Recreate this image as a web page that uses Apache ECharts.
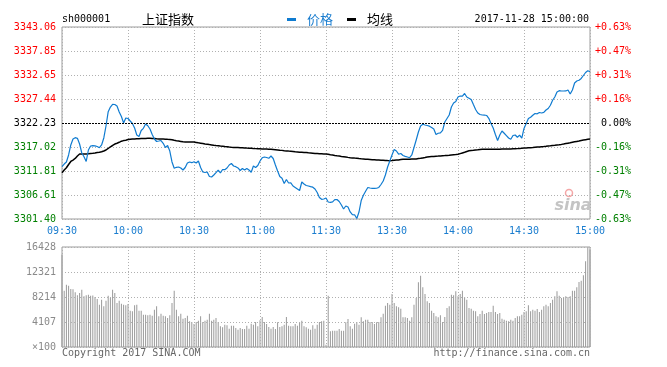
<!DOCTYPE html>
<html><head><meta charset="utf-8">
<script src="https://cdn.jsdelivr.net/npm/echarts@6/dist/echarts.min.js"></script>
<style>html,body{margin:0;padding:0;background:#fff;}#c{width:667px;height:367px;}</style>
</head><body><div id="c"></div>
<script>
// ---- data ----
const stockCode = 'sh000001';
const stockName = '上证指数';
const stamp = '2017-11-28 15:00:00';
const prevClose = 3322.23;
const priceMin = 3301.40;
const priceMax = 3343.06;
const volMax = 16428;
const priceTicks = ['3301.40','3306.61','3311.81','3317.02','3322.23','3327.44','3332.65','3337.85','3343.06'];
const pctTicks = ['-0.63%','-0.47%','-0.31%','-0.16%','0.00%','+0.16%','+0.31%','+0.47%','+0.63%'];
const volTicks = ['×100','4107','8214','12321','16428'];
const timeLabels = ['09:30','10:00','10:30','11:00','11:30','13:30','14:00','14:30','15:00'];

const price = [
3312.75,3313.33,3313.77,3315.29,3317.46,3318.76,3319.04,3318.91,3317.67,3315.72,
3314.92,3313.88,3316.37,3317.24,3317.31,3317.28,3317.13,3316.87,3317.46,3318.98,
3321.58,3324.68,3325.70,3326.29,3326.24,3325.92,3324.62,3323.64,3322.23,3323.32,
3323.21,3322.66,3322.12,3321.15,3319.63,3319.30,3320.60,3321.08,3322.01,3321.64,
3320.93,3319.74,3318.76,3318.22,3318.32,3318.43,3317.83,3316.91,3317.35,3316.15,
3313.77,3312.40,3312.62,3312.68,3312.47,3312.03,3312.57,3313.55,3313.77,3313.62,
3313.83,3313.55,3313.98,3312.57,3311.60,3311.49,3311.60,3310.62,3310.51,3310.95,
3311.45,3311.99,3311.42,3312.14,3312.10,3312.47,3313.12,3313.44,3312.90,3312.75,
3312.47,3311.92,3312.36,3312.03,3312.36,3312.03,3311.55,3312.90,3312.57,3313.01,
3313.98,3314.68,3314.85,3314.74,3314.57,3315.07,3314.53,3313.12,3311.81,3310.62,
3310.23,3309.10,3309.97,3309.21,3309.25,3308.56,3308.24,3307.91,3307.58,3309.43,
3308.99,3308.67,3308.56,3308.41,3308.30,3307.91,3307.15,3306.07,3305.67,3305.74,
3305.96,
3305.09,3305.02,3305.12,3305.61,3305.63,3305.20,3304.44,3303.57,3304.22,
3304.00,3302.92,3302.33,3302.31,3301.50,3302.92,3305.41,3306.56,3307.43,3308.24,
3308.13,3308.06,3308.04,3308.07,3308.24,3308.89,3309.65,3310.95,3312.68,3313.98,
3315.29,3316.48,3316.15,3315.46,3315.61,3315.18,3315.00,3314.85,3314.70,3315.29,
3316.91,3318.54,3320.28,3321.58,3321.95,3321.80,3321.69,3321.54,3321.25,3320.93,
3319.74,3320.00,3320.10,3320.65,3322.45,3323.21,3323.97,3325.70,3326.57,3326.90,
3327.87,3328.09,3328.08,3328.63,3327.87,3327.61,3327.33,3326.24,3325.16,3324.40,
3324.07,3323.97,3323.96,3323.86,3323.25,3322.12,3321.15,3319.74,3318.43,3319.63,
3320.49,3320.00,3319.50,3318.98,3318.69,3319.52,3319.63,3319.13,3319.60,3318.93,
3321.04,3322.12,3323.21,3323.47,3323.92,3324.29,3324.23,3324.51,3324.40,3324.53,
3325.05,3325.38,3326.09,3327.16,3327.87,3328.96,3329.24,3329.17,3329.17,3329.18,
3329.39,3328.52,3329.39,3330.91,3331.34,3331.50,3331.89,3332.54,3333.19,3333.56,3333.36
];

const avgPrice = [
3311.45,3312.03,3312.53,3313.23,3313.88,3314.20,3314.53,3315.07,3315.50,3315.50,
3315.50,3315.50,3315.55,3315.61,3315.66,3315.72,3315.81,3315.87,3315.98,3316.15,
3316.37,3316.70,3317.07,3317.35,3317.67,3317.85,3318.04,3318.28,3318.41,3318.50,
3318.63,3318.69,3318.74,3318.76,3318.80,3318.82,3318.85,3318.87,3318.89,3318.91,
3318.91,3318.89,3318.85,3318.80,3318.76,3318.76,3318.74,3318.72,3318.69,3318.67,
3318.59,3318.48,3318.39,3318.32,3318.24,3318.15,3318.11,3318.11,3318.11,3318.11,
3318.11,3318.02,3317.93,3317.85,3317.76,3317.67,3317.61,3317.54,3317.48,3317.41,
3317.35,3317.30,3317.24,3317.20,3317.13,3317.07,3317.00,3316.96,3316.94,3316.91,
3316.89,3316.87,3316.85,3316.81,3316.78,3316.76,3316.74,3316.70,3316.67,3316.65,
3316.63,3316.61,3316.59,3316.57,3316.55,3316.52,3316.48,3316.44,3316.39,3316.33,
3316.29,3316.22,3316.18,3316.13,3316.09,3316.05,3315.98,3315.94,3315.89,3315.87,
3315.83,3315.81,3315.76,3315.72,3315.68,3315.63,3315.61,3315.57,3315.55,3315.53,
3315.50,
3315.44,3315.35,3315.29,3315.20,3315.13,3315.07,3314.98,3314.92,3314.85,
3314.77,3314.70,3314.66,3314.61,3314.57,3314.51,3314.46,3314.42,3314.37,3314.35,
3314.31,3314.27,3314.25,3314.20,3314.18,3314.16,3314.14,3314.11,3314.07,3314.05,
3314.09,3314.14,3314.18,3314.22,3314.29,3314.35,3314.35,3314.37,3314.37,3314.40,
3314.42,3314.42,3314.51,3314.57,3314.66,3314.74,3314.83,3314.92,3314.96,3314.98,
3315.03,3315.05,3315.09,3315.13,3315.16,3315.20,3315.24,3315.29,3315.33,3315.37,
3315.44,3315.59,3315.74,3315.89,3316.05,3316.20,3316.26,3316.31,3316.37,3316.41,
3316.48,3316.52,3316.52,3316.52,3316.52,3316.52,3316.52,3316.52,3316.55,3316.55,
3316.57,3316.57,3316.59,3316.59,3316.61,3316.63,3316.65,3316.67,3316.72,3316.74,
3316.78,3316.81,3316.85,3316.87,3316.91,3316.96,3317.00,3317.02,3317.07,3317.11,
3317.17,3317.24,3317.28,3317.35,3317.39,3317.46,3317.52,3317.59,3317.67,3317.76,
3317.85,3317.93,3318.04,3318.15,3318.24,3318.32,3318.43,3318.52,3318.61,3318.69,3318.76
];

const volume = [
15170,9250,10240,10080,9530,9500,8980,8490,8870,9420,
8320,8490,8600,8430,8450,8210,7880,6950,7780,6680,
7610,8430,8050,9420,8870,7230,7610,7120,6950,6850,
7060,5970,5860,6850,6950,5970,5970,5310,5310,5200,
5310,5150,6130,6680,5040,5480,5150,5040,4760,5200,
7230,9250,6130,5040,5480,4650,4760,5150,4210,4110,
3780,4110,4320,5040,4110,4320,4490,5480,4320,4490,
4760,4110,3400,3230,3670,3560,3010,3510,3500,3120,
2850,3120,2960,2950,3510,3010,3830,3670,4110,3400,
4380,4930,4110,3780,3290,3010,3290,2960,4050,3290,
3400,3670,4930,3510,3400,3390,3780,3510,4110,4330,
3400,3230,3010,2850,3560,3010,3670,4110,4220,4330,
380,
8430,2570,2680,2690,2680,2960,2680,2690,4050,
4600,3400,3010,3830,4110,3670,4870,4220,4490,4490,
4110,4100,3780,4050,4110,4870,5480,6790,7230,6960,
8710,7230,6680,6520,6300,4870,4880,4760,4330,4870,
6960,8050,10620,11720,9800,8710,7500,7230,5970,5590,
5040,4870,5200,4110,4930,6410,6680,8600,8490,9150,
8320,8710,9250,8210,7780,6410,6300,5970,5860,5040,
5420,5970,5420,5590,5750,5750,6790,5750,5420,5590,
4660,4490,4330,4220,4490,4330,4760,5040,5040,5310,
5750,5860,6850,5860,6130,5970,6240,5750,6130,6680,
6960,6680,7230,7780,8320,9150,8430,8050,8210,8320,
8210,8320,9250,9250,9800,10680,10900,11770,14070,16428,16000
];

// minute categories: 09:30..11:30, 13:01..15:00
const times = [];
function pad(n){ return (n < 10 ? '0' : '') + n; }
for (let m = 9*60+30; m <= 11*60+30; m++) times.push(pad(Math.floor(m/60)) + ':' + pad(m%60));
for (let m = 13*60+1; m <= 15*60; m++) times.push(pad(Math.floor(m/60)) + ':' + pad(m%60));

// ---- styling ----
const MONO = '"DejaVu Sans Mono", "Liberation Mono", monospace';
const CJK = '"Noto Sans CJK SC", sans-serif';
const RED = '#ff0000', GREEN = '#008000', BLUE = '#1a7dcf', LINEBLUE = '#0f7bd0';
const GRIDC = '#b0b0b0', BORDER = '#9c9c9c';
const dotted = { color: GRIDC, type: [1, 2], width: 1 };
const every30 = (i) => i % 30 === 0;
const tickColor = (v) => { const n = Number(v); return n > 4 ? RED : (n < 4 ? GREEN : '#000'); };

const chart = echarts.init(document.getElementById('c'), null, { renderer: 'canvas' });
chart.setOption({
  animation: false,
  grid: [
    { left: 62, top: 27, width: 528, height: 192, show: true, borderColor: BORDER, borderWidth: 1 },
    { left: 62, top: 247, width: 528, height: 100, show: true, borderColor: BORDER, borderWidth: 1 }
  ],
  xAxis: [
    { type: 'category', gridIndex: 0, data: times, boundaryGap: false,
      axisLine: { show: false }, axisTick: { show: false },
      axisLabel: { interval: (i) => every30(i), formatter: (v, i) => timeLabels[i / 30],
        color: BLUE, fontFamily: MONO, fontSize: 10, margin: 7 },
      splitLine: { show: true, interval: (i) => every30(i), lineStyle: dotted } },
    { type: 'category', gridIndex: 1, data: times, boundaryGap: false, z: 3,
      axisLine: { show: false }, axisTick: { show: false }, axisLabel: { show: false },
      splitLine: { show: true, interval: (i) => every30(i), lineStyle: dotted } }
  ],
  yAxis: [
    { type: 'value', gridIndex: 0, min: 0, max: 8, interval: 1, position: 'left',
      axisLine: { show: false }, axisTick: { show: false },
      axisLabel: { formatter: (v) => priceTicks[v], color: tickColor, fontFamily: MONO, fontSize: 10, margin: 6 },
      splitLine: { show: true, lineStyle: dotted } },
    { type: 'value', gridIndex: 0, min: 0, max: 8, interval: 1, position: 'right',
      axisLine: { show: false }, axisTick: { show: false },
      axisLabel: { formatter: (v) => pctTicks[v], color: tickColor, fontFamily: MONO, fontSize: 10, margin: 41, align: 'right' },
      splitLine: { show: false } },
    { type: 'value', gridIndex: 0, min: priceMin, max: priceMax, show: false, splitLine: { show: false } },
    { type: 'value', gridIndex: 1, min: 0, max: volMax, interval: volMax / 4, position: 'left', z: 3,
      axisLine: { show: false }, axisTick: { show: false },
      axisLabel: { formatter: (v) => volTicks[Math.round(v / (volMax / 4))], color: '#8a8a8a', fontFamily: MONO, fontSize: 10, margin: 6 },
      splitLine: { show: true, lineStyle: dotted } }
  ],
  series: [
    { name: '均线', type: 'line', xAxisIndex: 0, yAxisIndex: 2, data: avgPrice, symbol: 'none',
      lineStyle: { color: '#000', width: 1.5 }, silent: true, z: 3 },
    { name: '价格', type: 'line', xAxisIndex: 0, yAxisIndex: 2, data: price, symbol: 'none',
      lineStyle: { color: LINEBLUE, width: 1.2 }, silent: true, z: 4,
      markLine: { silent: true, symbol: ['none', 'none'], label: { show: false },
        lineStyle: { color: '#000', type: [2, 1], width: 1 }, data: [{ yAxis: prevClose }] } },
    { name: '成交量', type: 'bar', xAxisIndex: 1, yAxisIndex: 3, data: volume, barWidth: 1,
      itemStyle: { color: '#999999' }, silent: true }
  ],
  graphic: [
    { type: 'text', x: 62, y: 19, style: { text: stockCode, font: '10px ' + MONO, fill: '#000', verticalAlign: 'middle' } },
    { type: 'text', x: 142, y: 19, style: { text: stockName, font: '13px ' + CJK, fill: '#000', verticalAlign: 'middle' } },
    { type: 'rect', shape: { x: 287, y: 18, width: 9, height: 3 }, style: { fill: LINEBLUE } },
    { type: 'text', x: 307, y: 19, style: { text: '价格', font: '13px ' + CJK, fill: BLUE, verticalAlign: 'middle' } },
    { type: 'rect', shape: { x: 347, y: 18, width: 9, height: 3 }, style: { fill: '#000' } },
    { type: 'text', x: 367, y: 19, style: { text: '均线', font: '13px ' + CJK, fill: '#000', verticalAlign: 'middle' } },
    { type: 'text', x: 589, y: 19, style: { text: stamp, font: '10px ' + MONO, fill: '#000', align: 'right', verticalAlign: 'middle' } },
    { type: 'text', x: 62, y: 353, style: { text: 'Copyright 2017 SINA.COM', font: '10px ' + MONO, fill: '#666', verticalAlign: 'middle' } },
    { type: 'text', x: 590, y: 353, style: { text: 'http://finance.sina.com.cn', font: '10px ' + MONO, fill: '#666', align: 'right', verticalAlign: 'middle' } },
    { type: 'circle', shape: { cx: 569, cy: 193, r: 3.5 }, style: { fill: 'none', stroke: '#f4a6a6', lineWidth: 1.5 } },
    { type: 'text', x: 573, y: 206, style: { text: 'sina', font: 'italic bold 16px "DejaVu Sans", sans-serif', fill: '#c4c4c4', align: 'center', verticalAlign: 'middle' } }
  ]
});
</script>
</body></html>
